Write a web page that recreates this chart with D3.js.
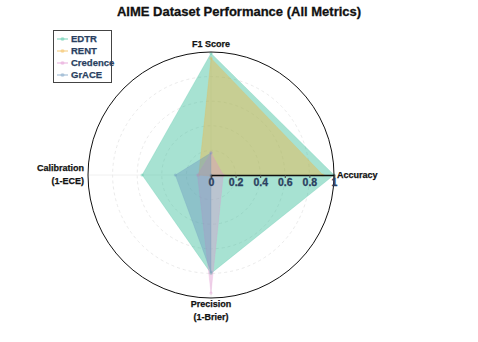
<!DOCTYPE html>
<html><head><meta charset="utf-8">
<script src="https://cdn.jsdelivr.net/npm/d3@7"></script>
<style>body{margin:0;background:#fff}svg{display:block;font-family:"Liberation Sans",Arial,sans-serif}</style>
</head><body>
<svg id="c" width="478" height="342"></svg>
<script>
const categories = ["Accuracy", "F1 Score", "Calibration (1-ECE)", "Precision (1-Brier)"];
const seriesNames = ["EDTR", "RENT", "Credence", "GrACE"];
const edtr = [1.0, 0.99, 0.56, 0.80];
const rent = [0.91, 0.95, 0.10, 0.01];
const credence = [0.10, 0.18, 0.11, 0.96];
const grace = [0.0, 0.18, 0.29, 0.79];
const radialTicks = [0, 0.2, 0.4, 0.6, 0.8, 1];
const colors = ["#3cbf9c", "#f2b23c", "#e08ccf", "#6a95bd"];
const gridTicks = [0.2, 0.4, 0.6, 0.8];

const svg = d3.select("#c");
const cx = 211, cy = 175, R = 123;
const r = d3.scaleLinear().domain([0, 1]).range([0, R]);
const ang = d3.scaleLinear().domain([0, categories.length]).range([Math.PI / 2, Math.PI / 2 - 2 * Math.PI]);
const g = svg.append("g").attr("transform", `translate(${cx},${cy})`);

g.selectAll("circle.grid").data(gridTicks).join("circle")
  .attr("r", d => r(d)).attr("fill", "none")
  .attr("stroke", "#e4e4e4").attr("stroke-width", 0.8).attr("stroke-dasharray", "3,3");
g.selectAll("line.spoke").data(categories).join("line")
  .attr("x1", 0).attr("y1", 0)
  .attr("x2", (d, i) => r(1) * Math.sin(ang(i)))
  .attr("y2", (d, i) => -r(1) * Math.cos(ang(i)))
  .attr("stroke", "#ececec").attr("stroke-width", 0.8);

const all = [edtr, rent, credence, grace];
const fillOp = [0.45, 0.42, 0.35, 0.42];
const line = d3.lineRadial().angle((d, i) => ang(i)).radius(d => r(d)).curve(d3.curveLinearClosed);
all.forEach((vals, k) => {
  g.append("path").attr("d", line(vals))
    .attr("fill", colors[k]).attr("fill-opacity", fillOp[k])
    .attr("stroke", colors[k]).attr("stroke-opacity", 0.2).attr("stroke-width", 1);
  g.selectAll(null).data(vals).join("circle")
    .attr("cx", (d, i) => r(d) * Math.sin(ang(i)))
    .attr("cy", (d, i) => -r(d) * Math.cos(ang(i)))
    .attr("r", 1.6).attr("fill", colors[k]).attr("fill-opacity", 0.35);
});

g.append("circle").attr("r", r(1)).attr("fill", "none").attr("stroke", "#111").attr("stroke-width", 1);

const ax = g.append("g").call(d3.axisBottom(r).tickValues(radialTicks).tickFormat(d => d3.format("~g")(d)).tickSize(3));
ax.select(".domain").attr("stroke", "#111").attr("stroke-width", 1.5);
ax.selectAll(".tick line").attr("stroke", "#444");
ax.selectAll(".tick text").attr("fill", "#2a3f5f").attr("font-size", 10.5).attr("font-weight", "bold")
  .attr("font-family", '"Liberation Sans",Arial,sans-serif').attr("y", 4).attr("dy", "0.71em")
  .attr("stroke", "#2a3f5f").attr("stroke-width", 0.3);

const labelLines = [["Accuracy"], ["F1 Score"], ["Calibration", "(1-ECE)"], ["Precision", "(1-Brier)"]];
const labelPos = [
  {x: R + 3, y: 0, anchor: "start", dy0: 3},
  {x: 0, y: -R - 5, anchor: "middle", dy0: 0},
  {x: -R - 4, y: 0, anchor: "end", dy0: -4},
  {x: 0, y: R + 9, anchor: "middle", dy0: 0}
];
labelLines.forEach((ls, i) => {
  const p = labelPos[i];
  const t = g.append("text").attr("x", p.x).attr("y", p.y).attr("text-anchor", p.anchor)
    .attr("font-size", 9).attr("font-weight", "bold").attr("fill", "#111")
    .attr("stroke", "#111").attr("stroke-width", 0.25);
  ls.forEach((s, j) => t.append("tspan").attr("x", p.x).attr("dy", j === 0 ? p.dy0 : 13).text(s));
});

svg.append("text").attr("x", 239).attr("y", 16).attr("text-anchor", "middle")
  .attr("font-size", 13).attr("font-weight", "bold").attr("fill", "#111")
  .attr("stroke", "#111").attr("stroke-width", 0.3)
  .text("AIME Dataset Performance (All Metrics)");

const lg = svg.append("g").attr("transform", "translate(53,30)");
lg.append("rect").attr("x", 0.5).attr("y", 0.5).attr("width", 58).attr("height", 52)
  .attr("fill", "#fff").attr("stroke", "#444").attr("stroke-width", 1);
seriesNames.forEach((n, k) => {
  const y = 9 + k * 12;
  lg.append("line").attr("x1", 4).attr("x2", 15).attr("y1", y).attr("y2", y)
    .attr("stroke", colors[k]).attr("stroke-opacity", 0.35).attr("stroke-width", 2);
  lg.append("circle").attr("cx", 9.5).attr("cy", y).attr("r", 2).attr("fill", colors[k]).attr("fill-opacity", 0.35);
  lg.append("text").attr("x", 18).attr("y", y + 3.3).attr("font-size", 9.5).attr("font-weight", "bold")
    .attr("fill", "#2a3f5f").attr("stroke", "#2a3f5f").attr("stroke-width", 0.25).text(n);
});
</script>
</body></html>
